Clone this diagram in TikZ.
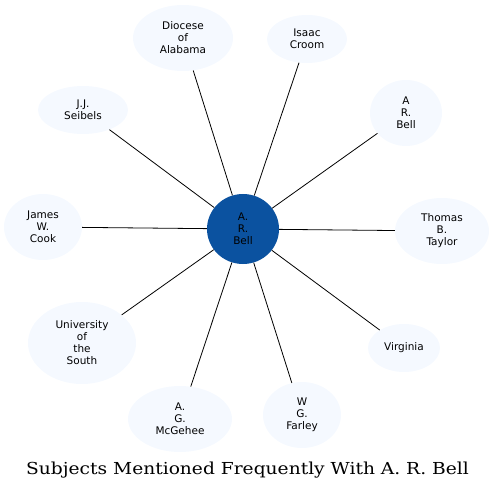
\documentclass[tikz,border=0pt]{standalone}
\usepackage{fontspec}
\setmainfont{DejaVu Serif}
\newfontfamily\labelfont{DejaVu Sans}
\newfontfamily\titlefont[FakeStretch=1.13]{DejaVu Serif}
\usepackage{xcolor}
\usetikzlibrary{shapes.geometric}

\definecolor{bellblue}{RGB}{11,82,160}
\definecolor{subjfill}{RGB}{245,249,255}

\begin{document}
\begin{tikzpicture}[x=1pt, y=-1pt,
    subject/.style={ellipse, fill=subjfill, inner sep=0pt, align=center,
        font=\labelfont\fontsize{10.5}{12}\selectfont},
    link/.style={draw=black, line width=0.8pt}]
    \useasboundingbox (0,0) rectangle (495,489);

    % Central node
    \node[subject, fill=bellblue, minimum width=72, minimum height=70] (bell) at (243,229) {A.\\R.\\Bell};

    % Surrounding subjects
    \node[subject, minimum width=100, minimum height=66] (diocese) at (183,38) {Diocese\\of\\Alabama};
    \node[subject, minimum width=80, minimum height=48] (croom) at (307,39) {Isaac\\Croom};
    \node[subject, minimum width=72, minimum height=66] (arbell) at (406,113) {A\\R.\\Bell};
    \node[subject, minimum width=90, minimum height=48] (seibels) at (83,110) {J.J.\\Seibels};
    \node[subject, minimum width=78, minimum height=66] (cook) at (43,227) {James\\W.\\Cook};
    \node[subject, minimum width=94, minimum height=66] (taylor) at (442,231) {Thomas\\B.\\Taylor};
    \node[subject, minimum width=108, minimum height=82] (south) at (82,343) {University\\of\\the\\South};
    \node[subject, minimum width=72, minimum height=48] (virginia) at (404,348) {Virginia};
    \node[subject, minimum width=104, minimum height=66] (mcgehee) at (180,419) {A.\\G.\\McGehee};
    \node[subject, minimum width=78, minimum height=66] (farley) at (302,415) {W\\G.\\Farley};

    % Links
    \foreach \s in {diocese, croom, arbell, seibels, cook, taylor, south, virginia, mcgehee, farley}
        \draw[link] (bell) -- (\s);

    % Caption
    \node[anchor=base, font=\titlefont\fontsize{16.5}{19}\selectfont] (title) at (247.5,474) {Subjects Mentioned Frequently With A. R. Bell};
\end{tikzpicture}
\end{document}
